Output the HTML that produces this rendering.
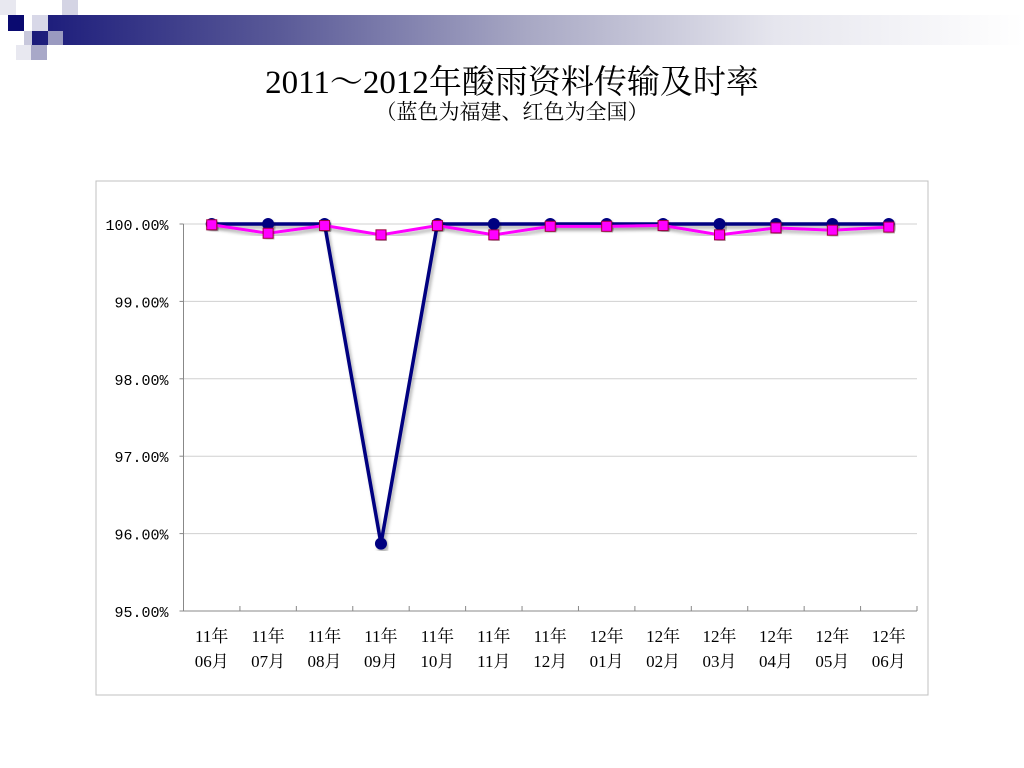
<!DOCTYPE html>
<html><head><meta charset="utf-8">
<style>
html,body{margin:0;padding:0;background:#fff;}
body{width:1024px;height:768px;position:relative;overflow:hidden;font-family:"Liberation Serif","Noto Serif CJK SC",serif;}
.sq{position:absolute;}
</style></head>
<body>
<div style="position:absolute;left:32px;top:15px;width:992px;height:30px;background:linear-gradient(to right,#1a1a7a 0%,#5a5a98 25%,#a8a8c4 50%,#e6e6ee 75%,#fff 100%);"></div>
<div class="sq" style="left:0;top:0;width:16px;height:15px;background:#e8e8f0"></div>
<div class="sq" style="left:16px;top:0;width:15px;height:15px;background:#fff"></div>
<div class="sq" style="left:62px;top:0;width:16px;height:15px;background:#d4d4e4"></div>
<div class="sq" style="left:8px;top:15px;width:16px;height:16px;background:#0a0a70"></div>
<div class="sq" style="left:32px;top:15px;width:16px;height:16px;background:#d8d8e8"></div>
<div class="sq" style="left:24px;top:31px;width:8px;height:14px;background:#c8c8dc"></div>
<div class="sq" style="left:48px;top:31px;width:15px;height:14px;background:#9a9ac0"></div>
<div class="sq" style="left:16px;top:45px;width:15px;height:15px;background:#e8e8f0"></div>
<div class="sq" style="left:31px;top:45px;width:16px;height:15px;background:#a8a8c8"></div>

<div style="position:absolute;left:0;width:1024px;top:56px;text-align:center;font-size:33px;color:#000;">2011～2012年酸雨资料传输及时率</div>
<div style="position:absolute;left:0;width:1024px;top:96px;text-align:center;font-size:21px;color:#000;">（蓝色为福建、红色为全国）</div>

<svg width="1024" height="768" style="position:absolute;left:0;top:0">
<defs><filter id="sh" x="-10%" y="-10%" width="120%" height="120%"><feDropShadow dx="2" dy="3" stdDeviation="1.5" flood-color="#000" flood-opacity="0.3"/></filter></defs>
<rect x="96" y="181" width="832" height="514" fill="#fff" stroke="#c0c0c0" stroke-width="1"/>
<g id="grid"></g><g id="axes"></g><g id="series"></g>
</svg>
<script>
const categories=["11年|06月","11年|07月","11年|08月","11年|09月","11年|10月","11年|11月","11年|12月","12年|01月","12年|02月","12年|03月","12年|04月","12年|05月","12年|06月"];
const fujian=[100,100,100,95.87,100,100,100,100,100,100,100,100,100];
const national=[99.99,99.88,99.98,99.86,99.98,99.86,99.97,99.97,99.98,99.86,99.95,99.92,99.96];
const yTicks=[95,96,97,98,99,100];
const yTickLabels=["95.00%","96.00%","97.00%","98.00%","99.00%","100.00%"];
const NS="http://www.w3.org/2000/svg";
const X0=183.5,X1=917,Y0=611,Y1=224,YMIN=95,YMAX=100;
const bw=(X1-X0)/categories.length;
const xs=i=>X0+bw*(i+0.5);
const ys=v=>Y0-(v-YMIN)/(YMAX-YMIN)*(Y0-Y1);
function mk(t,a,p){const e=document.createElementNS(NS,t);for(const k in a)e.setAttribute(k,a[k]);p.appendChild(e);return e;}
const grid=document.getElementById('grid'),axes=document.getElementById('axes'),ser=document.getElementById('series');
yTicks.forEach((v,i)=>{
 if(v>YMIN){const g=mk('line',{x1:X0,x2:X1,y1:ys(v),y2:ys(v),stroke:'#d0d0d0','stroke-width':1},grid);
 
 }
 const tk=mk('line',{x1:X0-4,x2:X0,y1:ys(v),y2:ys(v),stroke:'#888'},axes);
 
 
 const t=mk('text',{x:X0-15,y:ys(v)+6,'text-anchor':'end','font-size':15,'font-family':'"Liberation Mono","Noto Sans CJK SC",monospace',fill:'#000'},axes);
 t.textContent=yTickLabels[i];
 
 
});
const ya=mk('line',{x1:X0,x2:X0,y1:Y1,y2:Y0,stroke:'#888'},axes);


const xa=mk('line',{x1:X0,x2:X1,y1:Y0,y2:Y0,stroke:'#888'},axes);


categories.forEach((c,i)=>{
 const tk=mk('line',{x1:X0+bw*(i+1),x2:X0+bw*(i+1),y1:Y0,y2:Y0-5,stroke:'#888'},axes);
 
 
 const p=c.split('|');
 [0,1].forEach(j=>{
  const t=mk('text',{x:xs(i),y:Y0+31+j*25,'text-anchor':'middle','font-size':17,fill:'#000'},axes);
  t.textContent=p[j];
  
  
 });
});
const lb=mk('polyline',{points:fujian.map((v,i)=>xs(i)+','+ys(v)).join(' '),fill:'none',stroke:'#000080','stroke-width':3.5,filter:'url(#sh)'},ser);


fujian.forEach((v,i)=>{
 const m=mk('circle',{cx:xs(i),cy:ys(v),r:6,fill:'#000080',filter:'url(#sh)'},ser);
 
 
});
const lp=mk('polyline',{points:national.map((v,i)=>xs(i)+','+ys(v)).join(' '),fill:'none',stroke:'#ff00ff','stroke-width':3,filter:'url(#sh)'},ser);


national.forEach((v,i)=>{
 const m=mk('rect',{x:xs(i)-5,y:ys(v)-5,width:10,height:10,fill:'#ff00ff',stroke:'#a00040','stroke-width':1,filter:'url(#sh)'},ser);
 
 
});
</script>
</body></html>
